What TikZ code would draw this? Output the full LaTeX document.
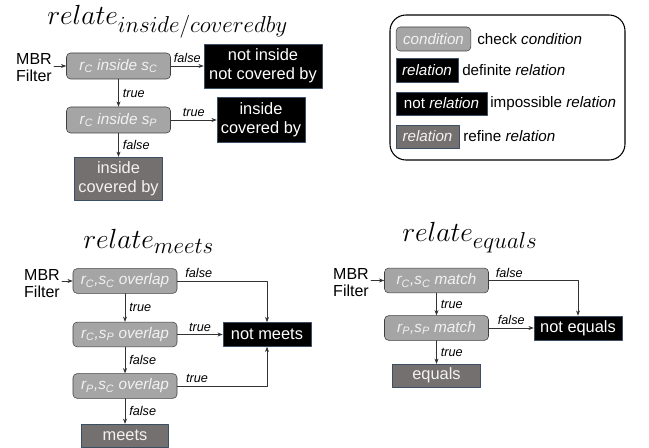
\documentclass[tikz,border=0pt]{standalone}
\usepackage{fontspec}
\newfontfamily\arial{Liberation Sans}
\usetikzlibrary{arrows.meta}
\DeclareMathSizes{20.74}{20.74}{17.28}{12}
\definecolor{condgray}{HTML}{A5A5A5}
\definecolor{condline}{HTML}{3F3F3F}
\definecolor{refgray}{HTML}{757070}
\definecolor{boxline}{HTML}{3B4E63}
\definecolor{lightlab}{HTML}{F2F2F2}

\begin{document}
\begin{tikzpicture}[x=0.75pt,y=-0.75pt,line cap=round,line join=round,
    cond/.style={draw=condline,fill=condgray,rounded corners=3pt,text=lightlab,inner sep=0pt,
      minimum width=78pt,minimum height=18.5pt,font=\arial\itshape\fontsize{11.5}{13}\selectfont},
    defrel/.style={draw=boxline,fill=black,text=white,inner sep=0pt,align=center,
      font=\arial\fontsize{12.3}{14.3}\selectfont},
    refrel/.style={defrel,fill=refgray,text=lightlab},
    lbl/.style={font=\arial\itshape\fontsize{9.5}{11}\selectfont,inner sep=2pt},
    mbr/.style={align=center,inner sep=1.5pt,font=\arial\fontsize{12}{12.75}\selectfont},
    ttl/.style={anchor=base west,inner sep=0pt,font=\huge},
    leg/.style={anchor=west,inner sep=0pt,font=\arial\fontsize{11.4}{13}\selectfont},
    legbox/.style={font=\arial\fontsize{11.4}{13}\selectfont},
    arr/.style={draw=black!80,line width=0.5pt,-{Stealth[length=4pt,width=3pt]}}]
  \useasboundingbox (0,0) rectangle (649,448);

  % relate inside/coveredby
  \node[ttl] (t1) at (47,25) {$relate_{inside/coveredby}$};
  \node[mbr] (m1) at (34,68) {MBR\\Filter};
  \node[cond,minimum height=19.5pt] (i1) at (118.5,66) {r\textsubscript{C} inside s\textsubscript{C}};
  \node[cond,minimum height=19.5pt] (i2) at (118.5,120) {r\textsubscript{C} inside s\textsubscript{P}};
  \node[defrel,minimum width=88.5pt,minimum height=33pt] (n1) at (263,66) {not inside\\not covered by};
  \node[defrel,minimum width=66pt,minimum height=34pt] (d1) at (261,120) {inside\\covered by};
  \node[refrel,minimum width=66pt,minimum height=32pt] (r1) at (118.5,178.5) {inside\\covered by};
  \draw[arr] (m1.east |- i1.west) -- (i1.west);
  \draw[arr] (i1) -- node[lbl,above] {false} (n1);
  \draw[arr] (i1) -- node[lbl,right=1pt] {true} (i2);
  \draw[arr] (i2) -- node[lbl,above] {true} (d1);
  \draw[arr] (i2) -- node[lbl,right=1pt] {false} (r1);

  % legend
  \draw[line width=0.8pt,rounded corners=12pt] (390,15) rectangle (625,160);
  \node[cond,legbox,minimum width=56pt,minimum height=18pt] (lc) at (433.5,39) {\itshape condition};
  \node[leg] (lct) at (477,39) {check \textit{condition}};
  \node[defrel,legbox,minimum width=46.5pt,minimum height=18pt] (ld) at (427,70) {\itshape relation};
  \node[leg] (ldt) at (462,70) {definite \textit{relation}};
  \node[defrel,legbox,minimum width=68pt,minimum height=17pt] (li) at (441.5,103.5) {not \textit{relation}};
  \node[leg] (lit) at (490,103.5) {impossible \textit{relation}};
  \node[refrel,legbox,minimum width=47pt,minimum height=17pt] (lr) at (427.5,136.5) {\itshape relation};
  \node[leg] (lrt) at (463,136.5) {refine \textit{relation}};

  % relate meets
  \node[ttl] (t2) at (83,248.5) {$relate_{meets}$};
  \node[mbr] (m2) at (42,284) {MBR\\Filter};
  \node[cond] (o1) at (125,281) {r\textsubscript{C},s\textsubscript{C} overlap};
  \node[cond] (o2) at (125,334.5) {r\textsubscript{C},s\textsubscript{P} overlap};
  \node[cond] (o3) at (125,386) {r\textsubscript{P},s\textsubscript{C} overlap};
  \node[refrel,minimum width=65pt,minimum height=17pt] (r2) at (125,435.5) {meets};
  \node[defrel,minimum width=66pt,minimum height=18pt] (n2) at (267,334.5) {not meets};
  \draw[arr] (m2.east |- o1.west) -- (o1.west);
  \draw[arr] (o1) -- node[lbl,right=1pt] {true} (o2);
  \draw[arr] (o2) -- node[lbl,right=1pt] {false} (o3);
  \draw[arr] (o3) -- node[lbl,right=1pt] {false} (r2);
  \draw[arr] (o1.east) -| node[lbl,above,pos=0.12] {false} (n2.north);
  \draw[arr] (o2) -- node[lbl,above] {true} (n2);
  \draw[arr] (o3.east) -| node[lbl,above,pos=0.11] {true} (n2.south);

  % relate equals
  \node[ttl] (t3) at (402,242) {$relate_{equals}$};
  \node[mbr] (m3) at (351,283) {MBR\\Filter};
  \node[cond] (q1) at (436.5,280.5) {r\textsubscript{C},s\textsubscript{C} match};
  \node[cond] (q2) at (436.5,328) {r\textsubscript{P},s\textsubscript{P} match};
  \node[refrel,minimum width=66pt,minimum height=17pt] (r3) at (436.5,375.5) {equals};
  \node[defrel,minimum width=66pt,minimum height=18pt] (n3) at (578,328) {not equals};
  \draw[arr] (m3.east |- q1.west) -- (q1.west);
  \draw[arr] (q1) -- node[lbl,right=1pt] {true} (q2);
  \draw[arr] (q2) -- node[lbl,right=1pt] {true} (r3);
  \draw[arr] (q1.east) -| node[lbl,above,pos=0.115] {false} (n3.north);
  \draw[arr] (q2) -- node[lbl,above] {false} (n3);
\end{tikzpicture}
\end{document}
